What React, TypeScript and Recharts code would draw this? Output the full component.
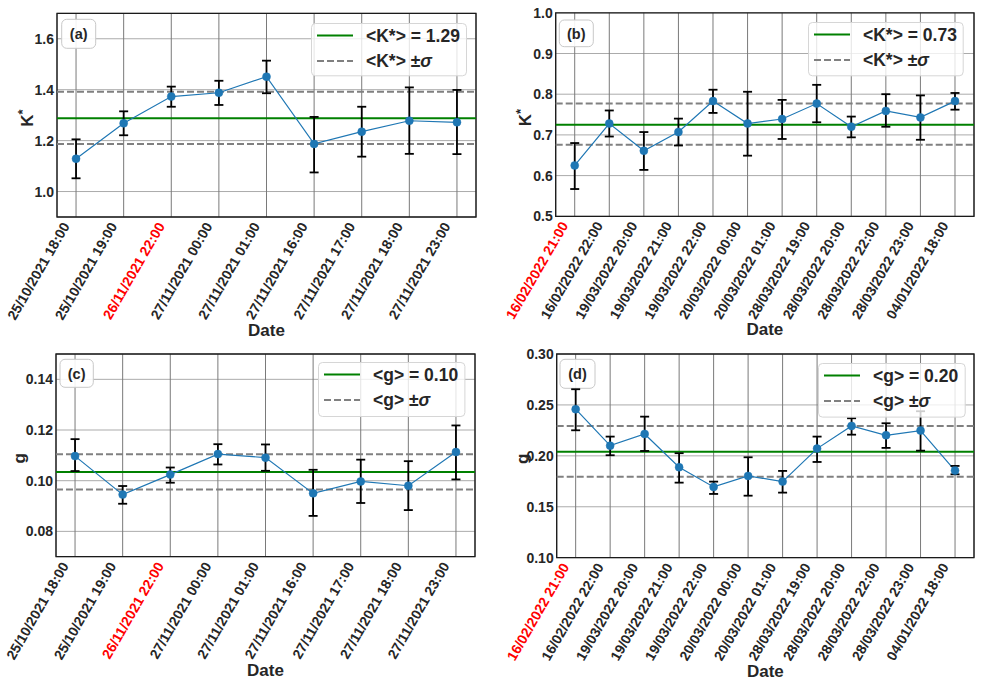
import React from 'react';
import {
  LineChart,
  Line,
  XAxis,
  YAxis,
  CartesianGrid,
  ReferenceLine,
  ReferenceArea,
  ErrorBar,
  Legend,
  Customized,
} from 'recharts';

// ---------- data ----------
const datesOct = [
  '25/10/2021 18:00', '25/10/2021 19:00', '26/11/2021 22:00', '27/11/2021 00:00',
  '27/11/2021 01:00', '27/11/2021 16:00', '27/11/2021 17:00', '27/11/2021 18:00',
  '27/11/2021 23:00',
];
const datesFeb = [
  '16/02/2022 21:00', '16/02/2022 22:00', '19/03/2022 20:00', '19/03/2022 21:00',
  '19/03/2022 22:00', '20/03/2022 00:00', '20/03/2022 01:00', '28/03/2022 19:00',
  '28/03/2022 20:00', '28/03/2022 22:00', '28/03/2022 23:00', '04/01/2022 18:00',
];

const kOct = [1.129, 1.268, 1.373, 1.388, 1.451, 1.187, 1.235, 1.278, 1.272];
const kOctHigh = [1.205, 1.315, 1.412, 1.435, 1.514, 1.293, 1.333, 1.409, 1.399];
const kOctLow = [1.052, 1.221, 1.333, 1.34, 1.386, 1.075, 1.137, 1.148, 1.147];

const kFeb = [0.625, 0.728, 0.661, 0.707, 0.783, 0.728, 0.739, 0.777, 0.72, 0.759, 0.743, 0.783];
const kFebHigh = [0.68, 0.76, 0.707, 0.74, 0.811, 0.806, 0.786, 0.823, 0.745, 0.8, 0.797, 0.803];
const kFebLow = [0.567, 0.696, 0.614, 0.674, 0.754, 0.649, 0.69, 0.731, 0.694, 0.72, 0.688, 0.762];

const gOct = [0.1097, 0.0945, 0.1024, 0.1105, 0.1091, 0.095, 0.0997, 0.098, 0.1113];
const gOctHigh = [0.1164, 0.0979, 0.1052, 0.1144, 0.1143, 0.1043, 0.1083, 0.1077, 0.1218];
const gOctLow = [0.1038, 0.0909, 0.0992, 0.1064, 0.1039, 0.0861, 0.0912, 0.0884, 0.1005];

const gFeb = [0.2458, 0.21, 0.2215, 0.1888, 0.1695, 0.1803, 0.1747, 0.2071, 0.2294, 0.2202, 0.2248, 0.1855];
const gFebHigh = [0.2654, 0.2189, 0.2385, 0.2026, 0.1747, 0.1986, 0.1852, 0.2189, 0.2369, 0.232, 0.2438, 0.1901];
const gFebLow = [0.2251, 0.2006, 0.2048, 0.1737, 0.1626, 0.1609, 0.1639, 0.194, 0.2208, 0.2078, 0.2051, 0.1819];

// mean and mean ± sigma
const kOctStats = [1.288, 1.187, 1.392];
const kFebStats = [0.725, 0.676, 0.777];
const gOctStats = [0.1034, 0.0965, 0.1104];
const gFebStats = [0.2041, 0.1796, 0.2294];

const kOctTicks = [1.0, 1.2, 1.4, 1.6];
const kFebTicks = [0.5, 0.6, 0.7, 0.8, 0.9, 1.0];
const gOctTicks = [0.08, 0.1, 0.12, 0.14];
const gFebTicks = [0.1, 0.15, 0.2, 0.25, 0.3];

// ---------- styling ----------
const FONT = '"Liberation Sans", Arial, Helvetica, sans-serif';
const TEXT = '#262626';
const BLUE = '#1f77b4';
const GREEN = '#008000';
const GREY = '#808080';
const Y_AXIS_W = 40;
const X_AXIS_H = 100;

type PanelProps = {
  left: number;
  top: number;
  width: number;
  height: number;
  margin: { top: number; right: number; bottom: number; left: number };
  dates: string[];
  redIndex: number;
  values: number[];
  lows: number[];
  highs: number[];
  stats: number[];
  yDomain: [number, number];
  yTicks: number[];
  yDigits: number;
  symbol: 'K' | 'g';
  meanText: string;
  tag: string;
  yLabelX: number;
  legend: { x: number; y: number; w: number; h: number };
  tagBox: { x: number; y: number; w: number; h: number };
};

function XTick(props: any) {
  const { x, y, payload, dates, redIndex } = props;
  const i = payload.value as number;
  const label = dates[i];
  return (
    <g transform={`translate(${x - 6},${y + 9})`}>
      <text
        textAnchor="end"
        transform="rotate(-60)"
        fontFamily={FONT}
        fontWeight="bold"
        fontSize={14}
        fill={i === redIndex ? '#ff0000' : TEXT}
      >
        {label}
      </text>
    </g>
  );
}

function YTick(props: any) {
  const { x, y, payload, digits } = props;
  return (
    <text
      x={x}
      y={y}
      dy="0.36em"
      textAnchor="end"
      fontFamily={FONT}
      fontWeight="bold"
      fontSize={14}
      fill={TEXT}
    >
      {Number(payload.value).toFixed(digits)}
    </text>
  );
}

function Panel(p: PanelProps) {
  const n = p.dates.length;
  const pad = (n - 1) * 0.05;
  const xDomain: [number, number] = [-pad, n - 1 + pad];
  const data = p.dates.map((d, i) => ({
    x: i,
    date: d,
    v: p.values[i],
    err: [p.values[i] - p.lows[i], p.highs[i] - p.values[i]],
  }));
  const plotW = p.width - p.margin.left - p.margin.right;
  const plotH = p.height - p.margin.top - p.margin.bottom;
  const plotBottom = p.margin.top + plotH;
  const cx = p.margin.left + plotW / 2;
  const cy = p.margin.top + plotH / 2;
  const [mean, lo, hi] = p.stats;
  const lg = p.legend;
  const chartMargin = {
    top: p.margin.top,
    right: p.margin.right,
    left: p.margin.left - Y_AXIS_W,
    bottom: p.margin.bottom - X_AXIS_H,
  };

  const legendContent = () => (
    <svg width={lg.w} height={lg.h} style={{ display: 'block', overflow: 'visible' }}>
      <rect x={0.5} y={0.5} width={lg.w - 1} height={lg.h - 1} rx={4} ry={4}
        fill="#ffffff" fillOpacity={0.8} stroke="#d6d6d6" strokeWidth={1} />
      <line x1={6} x2={42} y1={12.5} y2={12.5} stroke={GREEN} strokeWidth={2} />
      <text x={55} y={12.5} dy="0.36em" fontFamily={FONT} fontWeight="bold" fontSize={17.5} fill={TEXT}>
        {`<${p.symbol === 'K' ? 'K*' : 'g'}> = ${p.meanText}`}
      </text>
      <line x1={6} x2={42} y1={38} y2={38} stroke={GREY} strokeWidth={2} strokeDasharray="7 3" />
      <text x={55} y={38} dy="0.36em" fontFamily={FONT} fontWeight="bold" fontSize={17.5} fill={TEXT}>
        {`<${p.symbol === 'K' ? 'K*' : 'g'}> ±`}
        <tspan fontStyle="italic">σ</tspan>
      </text>
    </svg>
  );

  const decorations = () => (
    <g>
      <rect x={p.tagBox.x} y={p.tagBox.y} width={p.tagBox.w} height={p.tagBox.h} rx={5} ry={5}
        fill="#ffffff" fillOpacity={0.9} stroke="#c8c8c8" strokeWidth={1} />
      <text x={p.tagBox.x + p.tagBox.w / 2} y={p.tagBox.y + p.tagBox.h / 2} dy="0.36em"
        textAnchor="middle" fontFamily={FONT} fontWeight="bold" fontSize={14.5} fill={TEXT}>
        {p.tag}
      </text>
      <text x={cx} y={plotBottom + 119} textAnchor="middle" fontFamily={FONT}
        fontWeight="bold" fontSize={17} fill={TEXT}>
        Date
      </text>
      <text transform={`translate(${p.yLabelX},${cy + 3}) rotate(-90)`} textAnchor="middle"
        dy="0.36em" fontFamily={FONT} fontWeight="bold" fontSize={17} fill={TEXT}>
        {p.symbol}
        {p.symbol === 'K' ? (
          <tspan dy={-6} fontSize={13}>*</tspan>
        ) : null}
      </text>
    </g>
  );

  return (
    <div style={{ position: 'absolute', left: p.left, top: p.top, width: p.width, height: p.height }}>
      <LineChart width={p.width} height={p.height} data={data} margin={chartMargin}>
        <CartesianGrid horizontal={true} vertical={false} stroke="#ababab" strokeWidth={1} />
        <CartesianGrid horizontal={false} vertical={true} stroke="#7a7a7a" strokeWidth={1} />
        <XAxis
          dataKey="x"
          type="number"
          domain={xDomain}
          ticks={p.dates.map((_, i) => i)}
          interval={0}
          allowDataOverflow
          height={X_AXIS_H}
          tickSize={0}
          tickMargin={0}
          axisLine={false}
          tickLine={false}
          tick={(tp: any) => <XTick {...tp} dates={p.dates} redIndex={p.redIndex} />}
        />
        <YAxis
          type="number"
          domain={p.yDomain}
          ticks={p.yTicks}
          allowDataOverflow
          width={Y_AXIS_W}
          tickSize={0}
          tickMargin={3}
          axisLine={false}
          tickLine={false}
          interval={0}
          tick={(tp: any) => <YTick {...tp} digits={p.yDigits} />}
        />
        <ReferenceLine y={lo} stroke={GREY} strokeWidth={2} strokeDasharray="7 3" />
        <ReferenceLine y={hi} stroke={GREY} strokeWidth={2} strokeDasharray="7 3" />
        <ReferenceLine y={mean} stroke={GREEN} strokeWidth={2} />
        <Line
          dataKey="v"
          stroke={BLUE}
          strokeWidth={1.2}
          dot={{ r: 4, fill: BLUE, stroke: BLUE, strokeWidth: 0.5 }}
          activeDot={false}
          isAnimationActive={false}
        />
        <Line
          dataKey="v"
          stroke="none"
          dot={false}
          activeDot={false}
          isAnimationActive={false}
        >
          <ErrorBar dataKey="err" direction="y" width={4.5} stroke="#000000" strokeWidth={1.8}
            isAnimationActive={false} />
        </Line>
        <ReferenceArea
          x1={xDomain[0]}
          x2={xDomain[1]}
          y1={p.yDomain[0]}
          y2={p.yDomain[1]}
          fill="none"
          stroke="#1a1a1a"
          strokeWidth={1.3}
          ifOverflow="visible"
        />
        <Customized component={decorations} />
        <Legend
          layout="vertical"
          align="center"
          verticalAlign="middle"
          content={legendContent}
          wrapperStyle={{ position: 'absolute', left: lg.x, top: lg.y, width: lg.w, height: lg.h }}
        />
      </LineChart>
    </div>
  );
}

export default function App() {
  return (
    <div style={{ position: 'absolute', left: 0, top: 0, width: 985, height: 685, background: '#ffffff' }}>
      <Panel
        left={0} top={0} width={492} height={345}
        margin={{ top: 13.3, right: 16, bottom: 128, left: 57 }}
        dates={datesOct} redIndex={2}
        values={kOct} lows={kOctLow} highs={kOctHigh} stats={kOctStats}
        yDomain={[0.9, 1.7]} yTicks={kOctTicks} yDigits={1}
        symbol="K" meanText="1.29" tag="(a)" yLabelX={27}
        legend={{ x: 310.7, y: 22.7, w: 156, h: 53.3 }}
        tagBox={{ x: 61.7, y: 19.3, w: 34, h: 29 }}
      />
      <Panel
        left={492} top={0} width={493} height={345}
        margin={{ top: 12.8, right: 11, bottom: 128.7, left: 63.7 }}
        dates={datesFeb} redIndex={0}
        values={kFeb} lows={kFebLow} highs={kFebHigh} stats={kFebStats}
        yDomain={[0.5, 1.0]} yTicks={kFebTicks} yDigits={1}
        symbol="K" meanText="0.73" tag="(b)" yLabelX={33}
        legend={{ x: 316.3, y: 21.7, w: 155.7, h: 54.3 }}
        tagBox={{ x: 67.3, y: 20, w: 34, h: 26.7 }}
      />
      <Panel
        left={0} top={345} width={492} height={340}
        margin={{ top: 9, right: 17, bottom: 128.3, left: 56 }}
        dates={datesOct} redIndex={2}
        values={gOct} lows={gOctLow} highs={gOctHigh} stats={gOctStats}
        yDomain={[0.07, 0.15]} yTicks={gOctTicks} yDigits={2}
        symbol="g" meanText="0.10" tag="(c)" yLabelX={19}
        legend={{ x: 318.3, y: 16.7, w: 147.4, h: 55 }}
        tagBox={{ x: 60, y: 14.3, w: 33.3, h: 28 }}
      />
      <Panel
        left={492} top={345} width={493} height={340}
        margin={{ top: 9, right: 11, bottom: 127.3, left: 64.7 }}
        dates={datesFeb} redIndex={0}
        values={gFeb} lows={gFebLow} highs={gFebHigh} stats={gFebStats}
        yDomain={[0.1, 0.3]} yTicks={gFebTicks} yDigits={2}
        symbol="g" meanText="0.20" tag="(d)" yLabelX={30}
        legend={{ x: 326.3, y: 17.7, w: 147.7, h: 54.6 }}
        tagBox={{ x: 68, y: 14.3, w: 35, h: 29 }}
      />
    </div>
  );
}
